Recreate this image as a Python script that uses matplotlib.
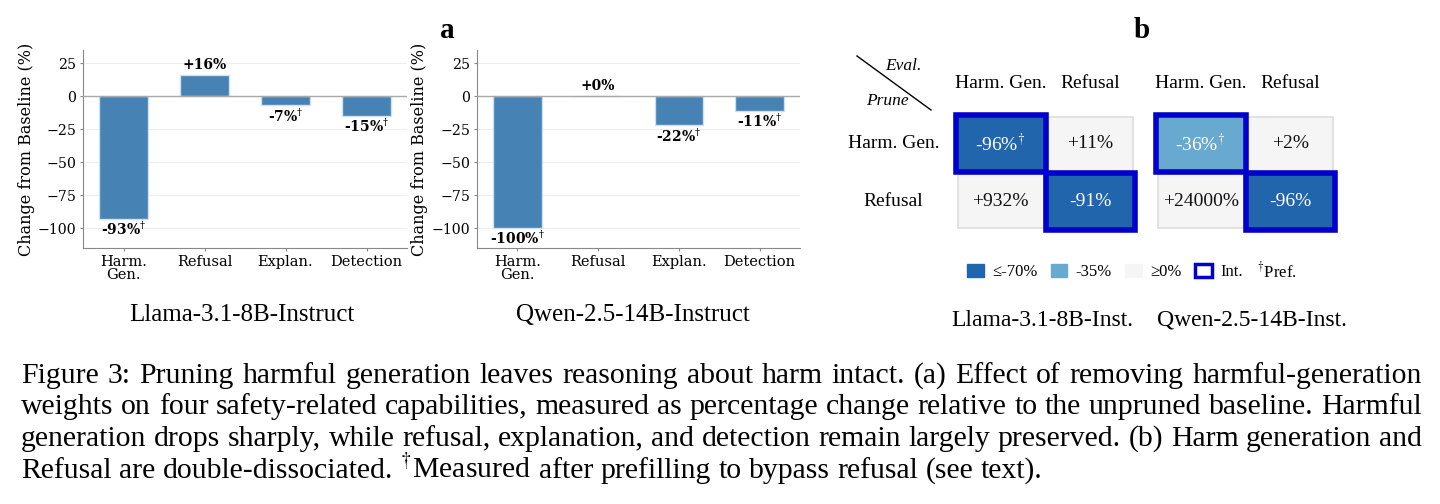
import numpy as np
import matplotlib.pyplot as plt
from matplotlib.patches import Rectangle, Patch
from matplotlib.lines import Line2D

# ---- data ----
capabilities = ["Harm.\nGen.", "Refusal", "Explan.", "Detection"]
llama_change = [-93, 16, -7, -15]
qwen_change = [-100, 0, -22, -11]
llama_dagger = [True, False, True, True]
qwen_dagger = [True, False, True, True]
model_names = ["Llama-3.1-8B-Instruct", "Qwen-2.5-14B-Instruct"]

heat_labels = ["Harm. Gen.", "Refusal"]
llama_matrix = [[-96, 11], [932, -91]]
qwen_matrix = [[-36, 2], [24000, -96]]
llama_mat_dagger = [[True, False], [False, False]]
qwen_mat_dagger = [[True, False], [False, False]]
intended = [[True, False], [False, True]]
heat_names = ["Llama-3.1-8B-Inst.", "Qwen-2.5-14B-Inst."]

caption_lines = [
    "Figure 3: Pruning harmful generation leaves reasoning about harm intact. (a) Effect of removing harmful-generation",
    "weights on four safety-related capabilities, measured as percentage change relative to the unpruned baseline. Harmful",
    "generation drops sharply, while refusal, explanation, and detection remain largely preserved. (b) Harm generation and",
    "Refusal are double-dissociated. $^{\\dagger}$Measured after prefilling to bypass refusal (see text).",
]

BAR = "#4682b4"
DARK = "#2166ac"
LIGHT = "#67a9cf"
GRAY = "#f5f5f5"
INT = "#0000cc"
SERIF = "Liberation Serif"

W, H = 1440, 504
fig = plt.figure(figsize=(W / 100, H / 100), dpi=100)
renderer = fig.canvas.get_renderer()


def px(x, y):
    return x / W, 1 - y / H


def bar_panel(rect, values, daggers, name, cx, ylab_x):
    ax = fig.add_axes(rect)
    x = np.arange(len(values))
    ax.bar(x, values, width=0.6, color=BAR, edgecolor="#cfe0f0", linewidth=1, zorder=3)
    ax.axhline(0, color="#aaaaaa", lw=1, zorder=4)
    ax.set_xlim(-0.5, 3.5)
    ax.set_ylim(-115, 35)
    ax.set_yticks([-100, -75, -50, -25, 0, 25])
    ax.set_xticks(x)
    ax.set_xticklabels(capabilities, family="DejaVu Serif", fontsize=10.5, linespacing=0.95)
    for t in ax.get_yticklabels():
        t.set_family("DejaVu Serif")
        t.set_fontsize(10.2)
    ax.set_ylabel("Change from Baseline (%)", family="DejaVu Serif", fontsize=11.5)
    ax.yaxis.set_label_coords(ylab_x, 0.5)
    ax.grid(axis="y", color="#eeeeee", lw=0.8, zorder=0)
    for s in ["top", "right"]:
        ax.spines[s].set_visible(False)
    for s in ["left", "bottom"]:
        ax.spines[s].set_color("#888888")
    ax.tick_params(length=2, color="#888888", pad=3)
    for xi, v, d in zip(x, values, daggers):
        sign = "+" if v >= 0 else ""
        lab = f"{sign}{v}%" + (r"$^{\dagger}$" if d else "")
        if v >= 0:
            ax.text(xi, v + 2.5, lab, ha="center", va="bottom", family="DejaVu Serif",
                    fontweight="bold", fontsize=10, math_fontfamily="dejavuserif")
        else:
            ax.text(xi, v - 1.5, lab, ha="center", va="top", family="DejaVu Serif",
                    fontweight="bold", fontsize=10, math_fontfamily="dejavuserif")
    fig.text(*px(cx, 315), name, ha="center", va="center", family=SERIF, fontsize=18)
    return ax


bar_panel([83 / W, 1 - 248 / H, 324 / W, 198 / H], llama_change, llama_dagger, model_names[0], 242, -0.148)
bar_panel([477 / W, 1 - 248 / H, 323 / W, 198 / H], qwen_change, qwen_dagger, model_names[1], 633, -0.152)
fig.text(*px(447, 30), "a", ha="center", va="center", family=SERIF, fontweight="bold", fontsize=21)


def cell_color(v):
    if v <= -70:
        return DARK
    if v < 0:
        return LIGHT
    return GRAY


def heat_panel(left, mat, dag, name, cx, row_labels):
    ax = fig.add_axes([left / W, 1 - 230 / H, 179 / W, 115 / H])
    ax.set_xlim(-0.5, 1.5)
    ax.set_ylim(1.5, -0.5)
    ax.axis("off")
    for i in range(2):
        for j in range(2):
            v = mat[i][j]
            c = cell_color(v)
            ax.add_patch(Rectangle((j - 0.48, i - 0.47), 0.96, 0.94, facecolor=c,
                                   edgecolor="#dddddd" if c == GRAY else c, lw=1.2))
            lab = f"{'+' if v >= 0 else ''}{v}%" + (r"$^{\dagger}$" if dag[i][j] else "")
            ax.text(j, i, lab, ha="center", va="center", family=SERIF, fontsize=14,
                    color="white" if c != GRAY else "#111111", math_fontfamily="stix")
    for i in range(2):
        for j in range(2):
            if intended[i][j]:
                ax.add_patch(Rectangle((j - 0.5, i - 0.5), 1, 1, fill=False,
                                       edgecolor=INT, lw=4, clip_on=False, zorder=5))
    for j, h in enumerate(heat_labels):
        ax.text(j, -1.05, h, ha="center", va="center", family=SERIF, fontsize=14)
    if row_labels:
        for i, h in enumerate(heat_labels):
            ax.text(-1.2, i, h, ha="center", va="center", family=SERIF, fontsize=14)
    fig.text(*px(cx, 320), name, ha="center", va="center", family=SERIF, fontsize=17)


heat_panel(956, llama_matrix, llama_mat_dagger, heat_names[0], 1042, True)
heat_panel(1156, qwen_matrix, qwen_mat_dagger, heat_names[1], 1252, False)
fig.text(*px(1142, 30), "b", ha="center", va="center", family=SERIF, fontweight="bold", fontsize=21)

# corner of the matrix
x0, y0 = px(857, 56)
x1, y1 = px(931, 110)
fig.add_artist(Line2D([x0, x1], [y0, y1], color="black", lw=1))
fig.text(*px(903, 66), "Eval.", ha="center", va="center", family=SERIF, style="italic", fontsize=12.5)
fig.text(*px(887, 101), "Prune", ha="center", va="center", family=SERIF, style="italic", fontsize=12.5)

handles = [Patch(facecolor=DARK, edgecolor=DARK), Patch(facecolor=LIGHT, edgecolor=LIGHT),
           Patch(facecolor=GRAY, edgecolor=GRAY), Patch(facecolor="white", edgecolor=INT, lw=2.5)]
leg = fig.legend(handles, ["≤-70%", "-35%", "≥0%", "Int."], loc="center left",
                 bbox_to_anchor=px(952, 272), ncol=4, frameon=False,
                 prop={"family": SERIF, "size": 12},
                 handlelength=1.0, handleheight=0.8, handletextpad=0.5, columnspacing=0.8)
lb = leg.get_window_extent(renderer)
fig.text((lb.x1 + 8) / W, 1 - 277 / H, r"$^{\dagger}$Pref.", ha="left", va="baseline", family=SERIF,
         fontsize=12, math_fontfamily="stix")

# caption, justified word by word
left, right = 21, 1422
probe = fig.text(0, 0, caption_lines[0], family=SERIF, fontsize=17.5)
cap_size = 17.5 * (right - left) / probe.get_window_extent(renderer).width * 0.99
probe.remove()
baselines = [383, 414, 446, 478]
for k, (line, yb) in enumerate(zip(caption_lines, baselines)):
    words = line.split(" ")
    texts = [fig.text(0, 1 - yb / H, w, ha="left", va="baseline", family=SERIF, fontsize=cap_size,
                      math_fontfamily="stix") for w in words]
    widths = [t.get_window_extent(renderer).width for t in texts]
    if k < len(caption_lines) - 1:
        gap = (right - left - sum(widths)) / (len(words) - 1)
    else:
        gap = cap_size * 0.25 * 100 / 72
    x = left
    for t, w in zip(texts, widths):
        t.set_x(x / W)
        x += w + gap

fig.savefig("out.png", dpi=100)
